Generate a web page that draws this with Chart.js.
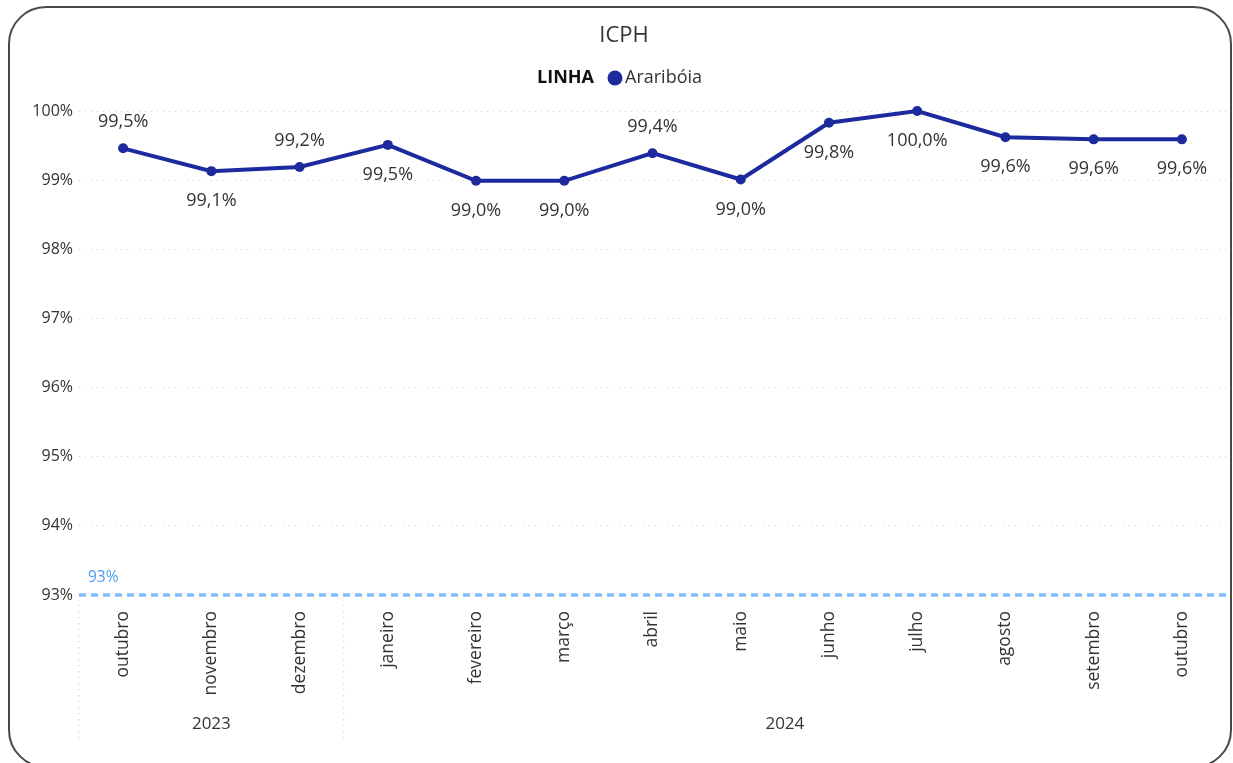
<!DOCTYPE html>
<html>
<head>
<meta charset="utf-8">
<title>ICPH</title>
<script src="https://cdn.jsdelivr.net/npm/chart.js@4.4.1/dist/chart.umd.min.js"></script>
<style>
    html, body {
        margin: 0;
        padding: 0;
        background: #ffffff;
        overflow: hidden;
    }

    #wrap {
        position: relative;
        width: 1233px;
        height: 763px;
    }

    #frame {
        position: absolute;
        left: 8px;
        top: 6px;
        width: 1224px;
        height: 762px;
        border: 2px solid #4a4a4a;
        border-radius: 38px;
        box-sizing: border-box;
        pointer-events: none;
    }

    #icphChart {
        position: absolute;
        left: 0;
        top: 0;
    }
</style>
</head>
<body>
<div id="wrap">
    <canvas id="icphChart" width="1233" height="763"></canvas>
    <div id="frame"></div>
</div>

<script>
/* ===============================
   DATA
=============================== */

const months = [
    "outubro", "novembro", "dezembro",
    "janeiro", "fevereiro", "março", "abril", "maio",
    "junho", "julho", "agosto", "setembro", "outubro"
];

const years = ["2023", "2024"];

// how many months belong to each year, same order as years
const yearSpans = [3, 10];

const icphValues = [
    99.46, 99.13, 99.19, 99.51, 98.99, 98.99, 99.39,
    99.01, 99.83, 100.0, 99.62, 99.59, 99.59
];

const dataLabels = [
    "99,5%", "99,1%", "99,2%", "99,5%", "99,0%", "99,0%", "99,4%",
    "99,0%", "99,8%", "100,0%", "99,6%", "99,6%", "99,6%"
];

const yTicks = [93, 94, 95, 96, 97, 98, 99, 100];

const targetValue = 93;

/* ===============================
   STYLE
=============================== */

const FONT = "'Open Sans', 'Noto Sans', sans-serif";
const LINE_COLOR = "#1c2a9e";
const TEXT_COLOR = "#333333";
const TARGET_COLOR = "#80bdf7";

// label above / below each point
const labelSide = [
    "up", "down", "up", "down", "down", "down", "up",
    "down", "down", "down", "down", "down", "down"
];

/* ===============================
   PLUGINS
=============================== */

const headerPlugin = {
    id: "header",
    afterDraw(chart) {
        const ctx = chart.ctx;
        ctx.save();

        ctx.fillStyle = TEXT_COLOR;
        ctx.font = "22px " + FONT;
        ctx.textAlign = "center";
        ctx.textBaseline = "middle";
        ctx.fillText("ICPH", 624, 36);

        // legend
        ctx.textAlign = "left";
        ctx.font = "bold 18px " + FONT;
        ctx.fillStyle = "#111111";
        ctx.fillText("LINHA", 537, 78);

        ctx.beginPath();
        ctx.arc(615, 78, 7.5, 0, Math.PI * 2);
        ctx.fillStyle = LINE_COLOR;
        ctx.fill();

        ctx.font = "18px " + FONT;
        ctx.fillStyle = TEXT_COLOR;
        ctx.fillText("Araribóia", 625, 78);

        ctx.restore();
    }
};

const targetPlugin = {
    id: "target",
    beforeDatasetsDraw(chart) {
        const ctx = chart.ctx;
        const area = chart.chartArea;
        const y = chart.scales.y.getPixelForValue(targetValue);

        ctx.save();
        ctx.strokeStyle = TARGET_COLOR;
        ctx.lineWidth = 3.5;
        ctx.setLineDash([7, 5]);
        ctx.beginPath();
        ctx.moveTo(area.left, y);
        ctx.lineTo(area.right, y);
        ctx.stroke();

        ctx.setLineDash([]);
        ctx.fillStyle = "#4a9ff0";
        ctx.font = "15.5px " + FONT;
        ctx.textAlign = "left";
        ctx.textBaseline = "middle";
        ctx.fillText(targetValue + "%", area.left + 9, y - 17);
        ctx.restore();
    }
};

const valueLabelPlugin = {
    id: "valueLabels",
    afterDatasetsDraw(chart) {
        const ctx = chart.ctx;
        const points = chart.getDatasetMeta(0).data;

        ctx.save();
        ctx.fillStyle = TEXT_COLOR;
        ctx.font = "18px " + FONT;
        ctx.textAlign = "center";
        ctx.textBaseline = "middle";

        points.forEach((pt, i) => {
            const dy = labelSide[i] === "up" ? -26 : 30;
            ctx.fillText(dataLabels[i], pt.x, pt.y + dy);
        });

        ctx.restore();
    }
};

const yearAxisPlugin = {
    id: "yearAxis",
    afterDraw(chart) {
        const ctx = chart.ctx;
        const x = chart.scales.x;
        const area = chart.chartArea;
        const step = x.getPixelForValue(1) - x.getPixelForValue(0);

        ctx.save();

        // dotted separators
        ctx.strokeStyle = "#c8c8c8";
        ctx.lineWidth = 1;
        ctx.setLineDash([1, 5]);

        let start = 0;
        const edges = [x.getPixelForValue(0) - step / 2];

        yearSpans.forEach(span => {
            start += span;
            edges.push(x.getPixelForValue(start - 1) + step / 2);
        });

        edges.slice(0, -1).forEach(ex => {
            ctx.beginPath();
            ctx.moveTo(ex, area.bottom + 10);
            ctx.lineTo(ex, 742);
            ctx.stroke();
        });

        ctx.setLineDash([]);
        ctx.fillStyle = TEXT_COLOR;
        ctx.font = "17px " + FONT;
        ctx.textAlign = "center";
        ctx.textBaseline = "middle";

        years.forEach((yr, i) => {
            ctx.fillText(yr, (edges[i] + edges[i + 1]) / 2, 724);
        });

        ctx.restore();
    }
};

/* ===============================
   CHART
=============================== */

const canvas = document.getElementById("icphChart");

new Chart(canvas, {

    type: "line",

    data: {
        labels: months,
        datasets: [
            {
                label: "Araribóia",
                data: icphValues,
                borderColor: LINE_COLOR,
                backgroundColor: LINE_COLOR,
                borderWidth: 4,
                pointRadius: 5,
                pointBackgroundColor: LINE_COLOR,
                pointBorderWidth: 0,
                tension: 0,
                clip: false
            }
        ]
    },

    options: {
        responsive: false,
        animation: false,
        devicePixelRatio: 1,

        layout: {
            padding: { top: 111, right: 7, left: 0, bottom: 0 }
        },

        plugins: {
            legend: { display: false },
            title: { display: false },
            tooltip: { enabled: false }
        },

        scales: {
            x: {
                offset: true,
                grid: { display: false, drawTicks: false },
                border: { display: false },
                ticks: {
                    color: TEXT_COLOR,
                    font: { size: 17.5, family: FONT },
                    minRotation: 90,
                    maxRotation: 90,
                    padding: 16,
                    autoSkip: false
                },
                afterFit(scale) {
                    scale.height = 168;
                }
            },

            y: {
                min: 93,
                max: 100,
                afterBuildTicks(scale) {
                    scale.ticks = yTicks.map(v => ({ value: v }));
                },
                grid: {
                    color: "#cfcfcf",
                    lineWidth: 1,
                    drawTicks: false
                },
                border: { display: false, dash: [1, 5] },
                ticks: {
                    color: TEXT_COLOR,
                    font: { size: 16, family: FONT },
                    padding: 6,
                    callback: v => v + "%"
                },
                afterFit(scale) {
                    scale.width = 79;
                }
            }
        }
    },

    plugins: [headerPlugin, targetPlugin, valueLabelPlugin, yearAxisPlugin]

});
</script>
</body>
</html>
